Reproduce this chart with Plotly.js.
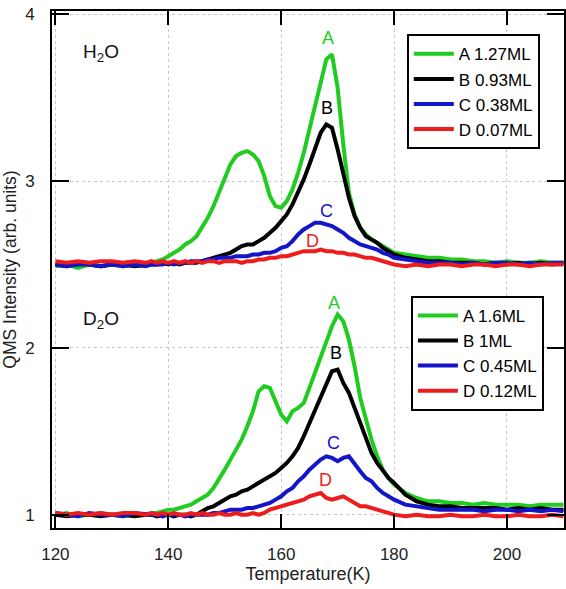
<!DOCTYPE html>
<html>
<head>
<meta charset="utf-8">
<script src="https://cdn.plot.ly/plotly-3.0.1.min.js"></script>
<style>html,body{margin:0;padding:0;background:#fff;}#plot{width:566px;height:589px;}</style>
</head>
<body>
<div id="plot"></div>
<script>
// Temperature (K)
const temperature = [120,122,124,126,128,130,132,134,136,
 137,138,139,140,141,142,143,144,145,146,147,148,149,150,151,152,153,154,155,156,157,158,159,160,161,162,163,164,165,166,167,168,169,170,171,172,173,174,175,176,177,178,179,180,
 182,184,186,188,190,192,194,196,198,200,202,204,206,208,210];

// H2O series
const h2oA = [2.49,2.50,2.48,2.50,2.49,2.50,2.49,2.50,2.50,
 2.51,2.52,2.53,2.55,2.57,2.59,2.62,2.64,2.67,2.72,2.78,2.85,2.93,3.02,3.10,3.15,3.17,3.18,3.16,3.12,3.03,2.91,2.85,2.84,2.88,2.95,3.05,3.17,3.31,3.46,3.61,3.73,3.76,3.56,3.22,2.93,2.80,2.72,2.68,2.65,2.63,2.61,2.59,2.57,
 2.56,2.55,2.54,2.54,2.53,2.53,2.52,2.52,2.51,2.52,2.51,2.51,2.52,2.51,2.51];
const h2oB = [2.50,2.49,2.51,2.50,2.49,2.50,2.50,2.49,2.50,
 2.50,2.50,2.51,2.50,2.51,2.50,2.51,2.51,2.51,2.52,2.53,2.54,2.55,2.56,2.57,2.59,2.61,2.62,2.62,2.64,2.66,2.69,2.72,2.76,2.80,2.86,2.93,3.01,3.10,3.20,3.29,3.34,3.32,3.19,3.05,2.90,2.79,2.72,2.67,2.65,2.63,2.60,2.58,2.56,
 2.54,2.53,2.52,2.52,2.51,2.51,2.51,2.50,2.51,2.50,2.51,2.50,2.51,2.50,2.51];
const h2oC = [2.50,2.49,2.50,2.50,2.49,2.50,2.49,2.50,2.49,
 2.50,2.50,2.50,2.51,2.50,2.51,2.51,2.52,2.52,2.52,2.53,2.53,2.54,2.54,2.54,2.55,2.55,2.55,2.56,2.56,2.57,2.57,2.58,2.60,2.61,2.64,2.68,2.71,2.73,2.75,2.75,2.74,2.73,2.71,2.69,2.66,2.64,2.62,2.61,2.60,2.59,2.57,2.56,2.54,
 2.53,2.52,2.51,2.51,2.51,2.50,2.51,2.50,2.51,2.51,2.50,2.51,2.50,2.51,2.51];
const h2oD = [2.52,2.51,2.52,2.51,2.52,2.52,2.51,2.52,2.51,
 2.52,2.51,2.52,2.51,2.52,2.51,2.52,2.51,2.52,2.51,2.52,2.52,2.51,2.52,2.52,2.52,2.51,2.52,2.52,2.53,2.53,2.54,2.54,2.55,2.55,2.56,2.57,2.58,2.58,2.58,2.59,2.58,2.58,2.57,2.57,2.56,2.56,2.55,2.54,2.54,2.53,2.52,2.51,2.50,
 2.49,2.50,2.49,2.50,2.50,2.49,2.50,2.50,2.49,2.50,2.50,2.49,2.50,2.50,2.50];

// D2O series
const d2oA = [1.00,1.01,0.99,1.00,1.01,1.00,0.99,1.00,1.00,
 1.01,1.01,1.02,1.03,1.03,1.04,1.05,1.06,1.08,1.10,1.12,1.16,1.21,1.27,1.33,1.39,1.45,1.53,1.62,1.74,1.77,1.76,1.68,1.60,1.56,1.62,1.64,1.67,1.76,1.85,1.95,2.04,2.13,2.20,2.16,2.05,1.89,1.70,1.57,1.45,1.35,1.27,1.22,1.18,
 1.13,1.10,1.08,1.08,1.07,1.07,1.06,1.07,1.06,1.06,1.06,1.05,1.06,1.06,1.06];
const d2oB = [1.00,0.99,1.00,1.00,0.99,1.00,1.00,0.99,1.00,
 1.00,0.99,1.00,1.00,0.99,1.00,1.00,0.99,1.00,1.02,1.04,1.05,1.07,1.09,1.11,1.12,1.14,1.15,1.17,1.19,1.21,1.23,1.25,1.28,1.31,1.35,1.40,1.47,1.55,1.62,1.70,1.78,1.86,1.87,1.79,1.73,1.64,1.54,1.45,1.37,1.31,1.26,1.22,1.19,
 1.12,1.08,1.06,1.05,1.05,1.04,1.04,1.04,1.04,1.03,1.04,1.03,1.04,1.03,1.03];
const d2oC = [1.01,1.00,0.99,1.01,1.00,1.00,0.99,1.01,1.00,
 1.00,1.00,0.99,1.00,1.00,1.00,0.99,1.00,1.00,1.00,1.00,1.01,1.01,1.02,1.03,1.03,1.03,1.04,1.04,1.05,1.06,1.07,1.09,1.11,1.14,1.16,1.20,1.23,1.27,1.30,1.33,1.35,1.34,1.32,1.34,1.35,1.30,1.26,1.22,1.20,1.16,1.13,1.11,1.09,
 1.06,1.05,1.04,1.03,1.03,1.03,1.03,1.02,1.03,1.03,1.02,1.03,1.02,1.03,1.02];
const d2oD = [1.01,1.00,1.01,1.00,1.01,1.00,1.01,1.01,1.00,
 1.01,1.00,1.01,1.00,1.01,1.00,1.00,1.01,1.00,1.01,1.00,1.00,1.01,1.00,1.00,1.01,1.00,1.00,1.01,1.00,1.01,1.03,1.04,1.05,1.06,1.07,1.08,1.09,1.11,1.12,1.13,1.10,1.09,1.10,1.11,1.09,1.07,1.05,1.05,1.04,1.03,1.02,1.01,1.00,
 0.99,1.00,0.99,0.99,1.00,0.99,0.99,1.00,0.99,0.99,1.00,0.99,0.99,1.00,0.99];

const h2oNames = ["A 1.27ML","B 0.93ML","C 0.38ML","D 0.07ML"];
const d2oNames = ["A 1.6ML","B 1ML","C 0.45ML","D 0.12ML"];
const letters = ["A","B","C","D"];
const h2oLetterPos = [[168.3,3.86],[168.1,3.44],[168.0,2.82],[165.6,2.64]];
const d2oLetterPos = [[169.3,2.27],[169.7,1.97],[169.3,1.43],[167.9,1.21]];

const colors = ["#1fcc1f","#000000","#1414c8","#ee1c1c"];

const traces = [];
[h2oA,h2oB,h2oC,h2oD].forEach((y,i)=>{
  traces.push({x:temperature,y:y,type:"scatter",mode:"lines",name:h2oNames[i],
    line:{color:colors[i],width:4},legend:"legend"});
});
[d2oA,d2oB,d2oC,d2oD].forEach((y,i)=>{
  traces.push({x:temperature,y:y,type:"scatter",mode:"lines",name:d2oNames[i],
    line:{color:colors[i],width:4},legend:"legend2"});
});

const annotations = [];
letters.forEach((l,i)=>{
  annotations.push({x:h2oLetterPos[i][0],y:h2oLetterPos[i][1],xref:"x",yref:"y",text:l,showarrow:false,
    font:{family:"Liberation Sans, Arial",size:18,color:colors[i]}});
  annotations.push({x:d2oLetterPos[i][0],y:d2oLetterPos[i][1],xref:"x",yref:"y",text:l,showarrow:false,
    font:{family:"Liberation Sans, Arial",size:18,color:colors[i]}});
});
annotations.push({x:128,y:3.77,xref:"x",yref:"y",text:"H<sub>2</sub>O",showarrow:false,
  font:{family:"Liberation Sans, Arial",size:19,color:"#111"}});
annotations.push({x:128,y:2.17,xref:"x",yref:"y",text:"D<sub>2</sub>O",showarrow:false,
  font:{family:"Liberation Sans, Arial",size:19,color:"#111"}});

const legendStyle = {font:{family:"Liberation Sans, Arial",size:17,color:"#000"},
  bgcolor:"#fff",bordercolor:"#000",borderwidth:2,xanchor:"left",yanchor:"top",
  tracegroupgap:0,itemwidth:40};

const layout = {
  width:566,height:589,
  margin:{l:52,r:2,t:11,b:61},
  paper_bgcolor:"#fff",plot_bgcolor:"#fff",
  font:{family:"Liberation Sans, Arial",color:"#000"},
  showlegend:true,
  legend:Object.assign({x:0.693,y:0.955},legendStyle),
  legend2:Object.assign({x:0.701,y:0.449},legendStyle),
  xaxis:{range:[119.4,210.1],tickvals:[120,140,160,180,200],ticks:"inside",ticklen:14,tickwidth:2,tickcolor:"#000",
    showline:true,linewidth:2,linecolor:"#000",mirror:"ticks",
    showgrid:true,gridcolor:"#c8c8c8",griddash:"dot",gridwidth:1,zeroline:false,
    tickfont:{size:17,color:"#222"},ticklabelstandoff:10,
    title:{text:"Temperature(K)",font:{size:18,color:"#222"},standoff:4}},
  yaxis:{range:[0.92,4.02],tickvals:[1,2,3,4],ticks:"inside",ticklen:17,tickwidth:2,tickcolor:"#000",
    showline:true,linewidth:2,linecolor:"#000",mirror:"ticks",
    showgrid:true,gridcolor:"#c8c8c8",griddash:"dot",gridwidth:1,zeroline:false,
    tickfont:{size:17,color:"#222"},ticklabelstandoff:12,
    title:{text:"QMS Intensity (arb. units)",font:{size:17.5,color:"#222"},standoff:4}},
  annotations:annotations
};

Plotly.newPlot("plot",traces,layout,{displayModeBar:false,staticPlot:true});
</script>
</body>
</html>
